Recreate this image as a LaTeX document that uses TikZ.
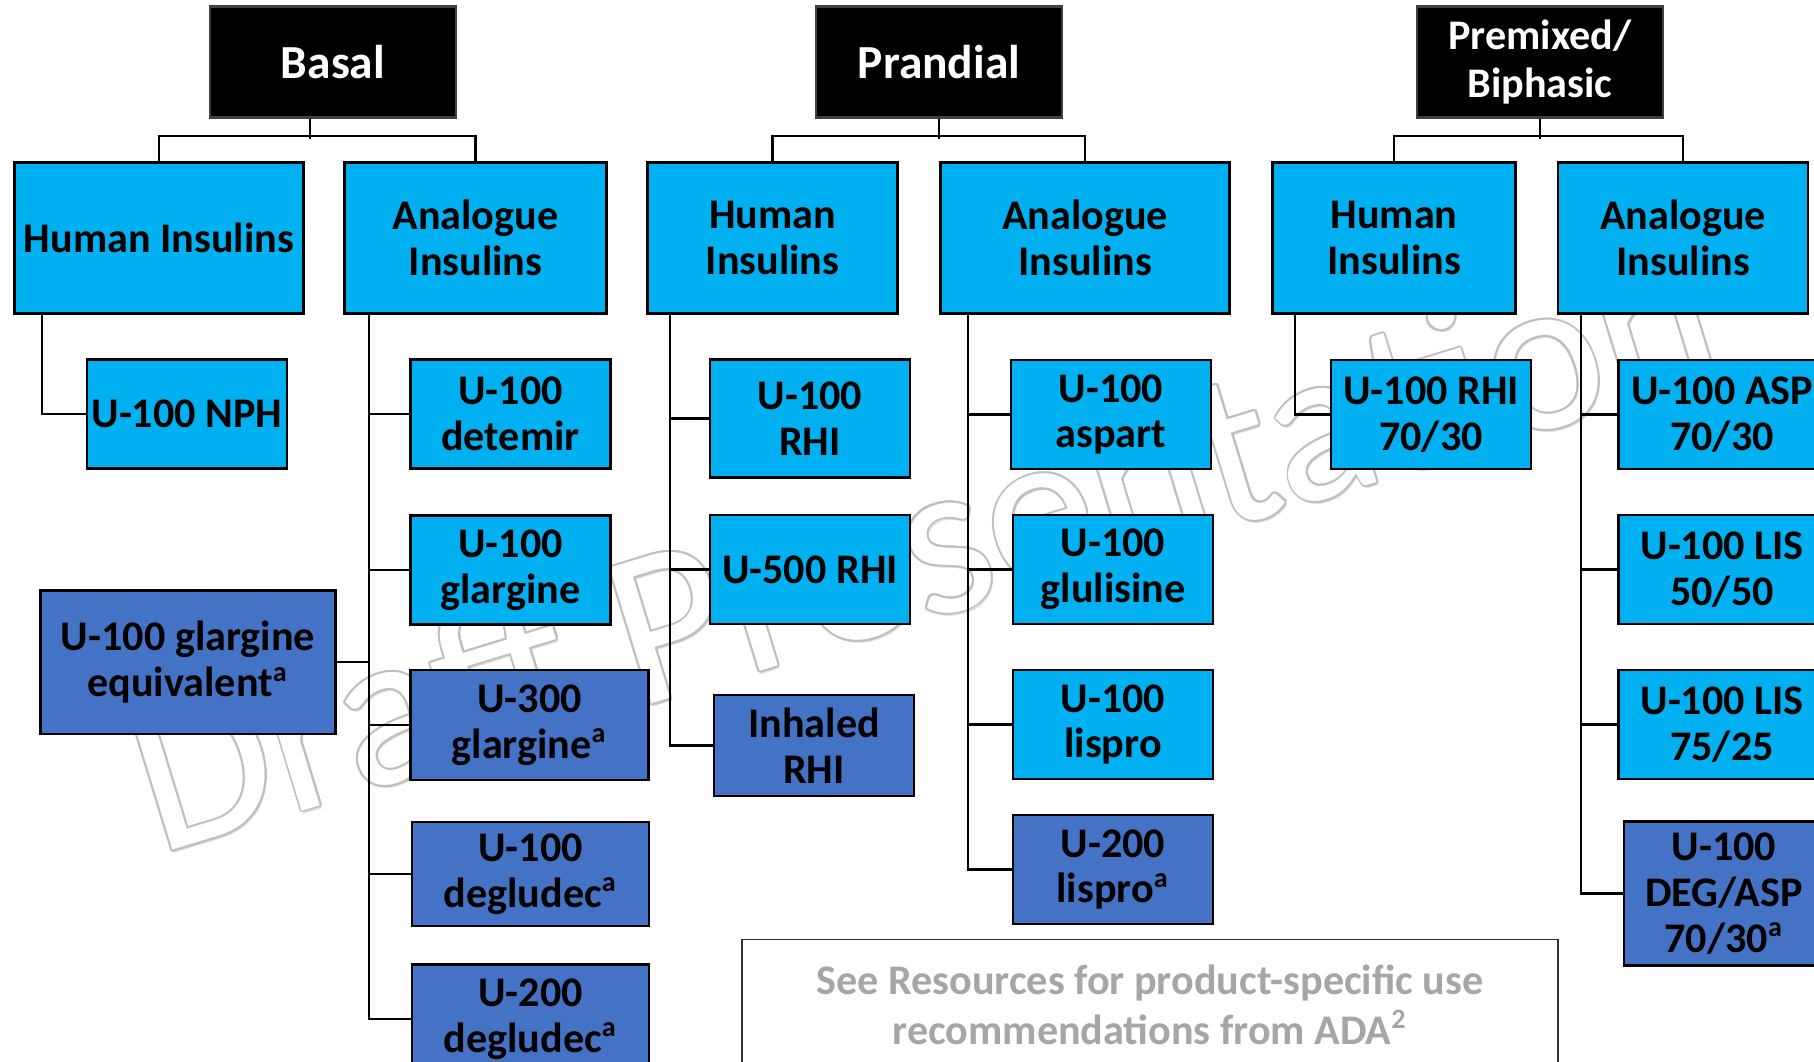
\documentclass[tikz,border=0pt]{standalone}
\usepackage{fontspec}
\setmainfont{Carlito}
\usepackage[copies]{contour}
\usepackage{tikz}
\usetikzlibrary{positioning}
\definecolor{lightblue}{HTML}{00B0F0}
\definecolor{darkblue}{HTML}{4472C4}
\definecolor{notegray}{HTML}{A6A6A6}
\contourlength{0.55pt}
\tikzstyle{head} = [rectangle, minimum width=2.46cm, minimum height=1.11cm, align=center, draw=black!75, line width=0.7pt, fill=black, text=white, font=\fontsize{13.5}{15}\selectfont\bfseries]
\tikzstyle{kind} = [rectangle, minimum height=1.51cm, inner xsep=1pt, align=center, draw=black, line width=0.7pt, fill=lightblue, font=\fontsize{12}{13}\selectfont\bfseries]
\tikzstyle{light} = [rectangle, minimum width=2cm, minimum height=1.09cm, inner xsep=1pt, align=center, draw=black, line width=0.7pt, fill=lightblue, font=\fontsize{12}{13}\selectfont\bfseries]
\tikzstyle{dark} = [rectangle, minimum width=2cm, minimum height=1.09cm, inner xsep=1pt, align=center, draw=black, line width=0.7pt, fill=darkblue, font=\fontsize{12}{13}\selectfont\bfseries]
\tikzstyle{note} = [rectangle, minimum width=8.16cm, minimum height=1.3cm, align=center, draw=black!80, line width=0.5pt, fill=white, text=notegray, font=\fontsize{12}{14.2}\selectfont\bfseries]
\tikzstyle{watermark} = [rotate=17, anchor=base west, inner sep=0pt, font=\fontsize{63}{63}\selectfont]
\tikzstyle{link} = [line width=0.6pt, draw=black]

\begin{document}
\begin{tikzpicture}[node distance=1cm]
		\useasboundingbox (0,0) rectangle (18.14,-10.61);
		\clip (0,0) rectangle (18.14,-10.61);
		
		% watermark behind everything
		\node (markshadow) [watermark, text=gray!25] at (1.60,-8.58) {Draft Presentation};
		\node (mark) [watermark, text=white] at (1.58,-8.55) {\contour{gray!50}{Draft Presentation}};
		
		% top row
		\node (basal) [head] at (3.33,-0.62) {Basal};
		\node (prandial) [head, right of=basal, xshift=5.06cm] {Prandial};
		\node (premixed) [head, right of=prandial, xshift=5.01cm, font=\fontsize{12}{13.6}\selectfont\bfseries] {Premixed/\\Biphasic};
		
		% second row
		\node (bh) [kind, below of=basal, xshift=-1.74cm, yshift=-0.76cm, minimum width=2.89cm] {Human Insulins};
		\node (ba) [kind, below of=basal, xshift=1.425cm, yshift=-0.76cm, minimum width=2.62cm] {Analogue\\Insulins};
		\node (ph) [kind, below of=prandial, xshift=-1.665cm, yshift=-0.76cm, minimum width=2.5cm] {Human\\Insulins};
		\node (pa) [kind, below of=prandial, xshift=1.46cm, yshift=-0.76cm, minimum width=2.89cm] {Analogue\\Insulins};
		\node (mh) [kind, below of=premixed, xshift=-1.46cm, yshift=-0.76cm, minimum width=2.43cm] {Human\\Insulins};
		\node (ma) [kind, below of=premixed, xshift=1.43cm, yshift=-0.76cm, minimum width=2.5cm] {Analogue\\Insulins};
		
		% basal
		\node (nph) [light, below of=bh, xshift=0.28cm, yshift=-0.76cm] {U-100 NPH};
		\node (geq) [dark, below of=nph, xshift=0.01cm, yshift=-1.48cm, minimum width=2.95cm, minimum height=1.435cm] {U-100 glargine\\equivalent\textsuperscript{a}};
		\node (detemir) [light, below of=ba, xshift=0.35cm, yshift=-0.76cm] {U-100\\detemir};
		\node (glar100) [light, below of=detemir, yshift=-0.56cm] {U-100\\glargine};
		\node (glar300) [dark, below of=glar100, xshift=0.19cm, yshift=-0.55cm, minimum width=2.38cm, minimum height=1.1cm] {U-300\\glargine\textsuperscript{a}};
		\node (deg100) [dark, below of=glar300, xshift=0.01cm, yshift=-0.49cm, minimum width=2.37cm, minimum height=1cm] {U-100\\degludec\textsuperscript{a}};
		\node (deg200) [dark, below of=deg100, yshift=-0.45cm, minimum width=2.37cm] {U-200\\degludec\textsuperscript{a}};
		
		% prandial
		\node (rhi100) [light, below of=ph, xshift=0.375cm, yshift=-0.805cm, minimum height=1.18cm] {U-100\\RHI};
		\node (rhi500) [light, below of=rhi100, yshift=-0.51cm] {U-500 RHI};
		\node (inhaled) [dark, below of=rhi500, xshift=0.04cm, yshift=-0.76cm, minimum height=1.01cm] {Inhaled\\RHI};
		\node (aspart) [light, below of=pa, xshift=0.26cm, yshift=-0.765cm] {U-100\\aspart};
		\node (glulisine) [light, below of=aspart, xshift=0.02cm, yshift=-0.55cm] {U-100\\glulisine};
		\node (lispro100) [light, below of=glulisine, yshift=-0.55cm] {U-100\\lispro};
		\node (lispro200) [dark, below of=lispro100, yshift=-0.45cm] {U-200\\lispro\textsuperscript{a}};
		
		% premixed
		\node (rhi7030) [light, below of=mh, xshift=0.37cm, yshift=-0.765cm] {U-100 RHI\\70/30};
		\node (asp7030) [light, below of=ma, xshift=0.39cm, yshift=-0.765cm, minimum width=2.07cm] {U-100 ASP\\70/30};
		\node (lis5050) [light, below of=asp7030, yshift=-0.55cm, minimum width=2.07cm] {U-100 LIS\\50/50};
		\node (lis7525) [light, below of=lis5050, yshift=-0.55cm, minimum width=2.07cm] {U-100 LIS\\75/25};
		\node (degasp) [dark, below of=lis7525, xshift=0.02cm, yshift=-0.69cm, minimum width=2cm, minimum height=1.4cm] {U-100\\DEG/ASP\\70/30\textsuperscript{a}};
		
		\node (note) [note, below of=lispro200, xshift=0.37cm, yshift=-0.35cm] {See Resources for product-specific use\\recommendations from ADA\textsuperscript{2}};
		
		% tree lines
		\draw [link] ([xshift=-0.23cm]basal.south) -- ++(0,-0.2);
		\draw [link] (bh.north) -- ++(0,0.255) -| (ba.north);
		\draw [link] (prandial.south) -- ++(0,-0.2);
		\draw [link] (ph.north) -- ++(0,0.255) -| (pa.north);
		\draw [link] (premixed.south) -- ++(0,-0.2);
		\draw [link] (mh.north) -- ++(0,0.255) -| (ma.north);
		
		\coordinate (bhT) at ([xshift=0.29cm]bh.south west);
		\coordinate (baT) at ([xshift=0.26cm]ba.south west);
		\coordinate (phT) at ([xshift=0.24cm]ph.south west);
		\coordinate (paT) at ([xshift=0.29cm]pa.south west);
		\coordinate (mhT) at ([xshift=0.24cm]mh.south west);
		\coordinate (maT) at ([xshift=0.24cm]ma.south west);
		
		\draw [link] (bhT) |- (nph.west);
		\draw [link] (baT) |- (detemir.west);
		\draw [link] (baT) |- (glar100.west);
		\draw [link] (baT) |- (glar300.west);
		\draw [link] (baT) |- (deg100.west);
		\draw [link] (baT) |- (deg200.west);
		\draw [link] (geq.east) -- (geq.east -| baT);
		\draw [link] (phT) |- (rhi100.west);
		\draw [link] (phT) |- (rhi500.west);
		\draw [link] (phT) |- (inhaled.west);
		\draw [link] (paT) |- (aspart.west);
		\draw [link] (paT) |- (glulisine.west);
		\draw [link] (paT) |- (lispro100.west);
		\draw [link] (paT) |- (lispro200.west);
		\draw [link] (mhT) |- (rhi7030.west);
		\draw [link] (maT) |- (asp7030.west);
		\draw [link] (maT) |- (lis5050.west);
		\draw [link] (maT) |- (lis7525.west);
		\draw [link] (maT) |- (degasp.west);
\end{tikzpicture}
\end{document}
